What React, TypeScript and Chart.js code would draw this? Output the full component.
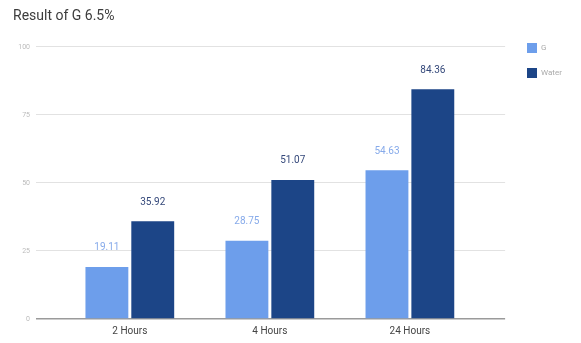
import React, { useEffect, useRef } from "react";
import { Chart, registerables } from "chart.js";

Chart.register(...registerables);

const titleText = "Result of G 6.5%";
const categories = ["2 Hours", "4 Hours", "24 Hours"];
const seriesNames = ["G", "Water"];
const gValues = [19.11, 28.75, 54.63];
const waterValues = [35.92, 51.07, 84.36];
const yTickValues = [0, 25, 50, 75, 100];

const barColors = ["#6d9eeb", "#1c4587"];
const labelColors = ["#86aaea", "#34487a"];

const valueLabels = {
  id: "valueLabels",
  afterDatasetsDraw(chart: any) {
    const ctx = chart.ctx;
    ctx.save();
    ctx.font = "10px Roboto";
    ctx.textAlign = "center";
    ctx.textBaseline = "middle";
    chart.data.datasets.forEach((ds: any, di: number) => {
      const meta = chart.getDatasetMeta(di);
      meta.data.forEach((el: any, i: number) => {
        ctx.fillStyle = labelColors[di];
        ctx.fillText(ds.data[i].y.toFixed(2), el.x, el.y - 19);
      });
    });
    ctx.restore();
  },
};

const legendPlace = {
  id: "legendPlace",
  afterLayout(chart: any) {
    const l = chart.legend;
    if (!l) return;
    const w = l.right - l.left;
    const h = l.bottom - l.top;
    l.left = 512;
    l.right = 512 + w;
    l.top = 28;
    l.bottom = 28 + h;
  },
};

export default function App() {
  const ref = useRef<HTMLCanvasElement>(null);
  useEffect(() => {
    if (!ref.current) return;
    const chart = new Chart(ref.current, {
      type: "bar",
      data: {
        datasets: [
          {
            label: seriesNames[0],
            data: gValues.map((v, i) => ({ x: i, y: v })),
            backgroundColor: barColors[0],
            categoryPercentage: 0.655,
            barPercentage: 0.935,
          },
          {
            label: seriesNames[1],
            data: waterValues.map((v, i) => ({ x: i, y: v })),
            backgroundColor: barColors[1],
            categoryPercentage: 0.655,
            barPercentage: 0.935,
          },
        ],
      },
      options: {
        responsive: false,
        animation: false,
        layout: { padding: { left: 13, right: 16, top: 0, bottom: 4 } },
        plugins: {
          title: {
            display: true,
            text: titleText,
            align: "start",
            color: "#3c3c3c",
            font: { family: "Roboto", size: 14, weight: "normal" },
            padding: { top: 8, bottom: 22 },
          },
          legend: {
            position: "right",
            align: "start",
            labels: {
              boxWidth: 10,
              boxHeight: 10,
              padding: 15,
              color: "#aaaaaa",
              font: { family: "Roboto", size: 8 },
            },
          },
          tooltip: { enabled: false },
        },
        scales: {
          x: {
            type: "linear",
            offset: false,
            bounds: "data",
            min: -0.67,
            max: 2.68,
            afterBuildTicks(scale: any) {
              scale.ticks = categories.map((_, i) => ({ value: i }));
            },
            afterFit(scale: any) {
              scale.height = 20;
            },
            ticks: {
              color: "#444444",
              font: { family: "Roboto", size: 10 },
              padding: 6,
              maxRotation: 0,
              callback: (v: any) => categories[v as number] ?? "",
            },
            grid: { display: false, drawTicks: false, tickLength: 0 },
            border: { display: false },
          },
          y: {
            min: 0,
            max: 100,
            afterBuildTicks(scale: any) {
              scale.ticks = yTickValues.map((v) => ({ value: v }));
            },
            afterFit(scale: any) {
              scale.width = 23;
            },
            ticks: {
              color: "#bbbbbb",
              font: { family: "Roboto", size: 7 },
              padding: 6,
            },
            grid: {
              drawTicks: false,
              color: (c: any) => (c.tick && c.tick.value === 0 ? "#9a9a9a" : "#e2e2e2"),
              lineWidth: (c: any) => (c.tick && c.tick.value === 0 ? 1.5 : 1),
            },
            border: { display: false },
          },
        },
      },
      plugins: [valueLabels, legendPlace],
    } as any);
    return () => chart.destroy();
  }, []);
  return (
    <div style={{ position: "absolute", left: 0, top: 0, width: 581, height: 343, background: "#fff" }}>
      <canvas ref={ref} width={581} height={343} style={{ display: "block" }} />
    </div>
  );
}
